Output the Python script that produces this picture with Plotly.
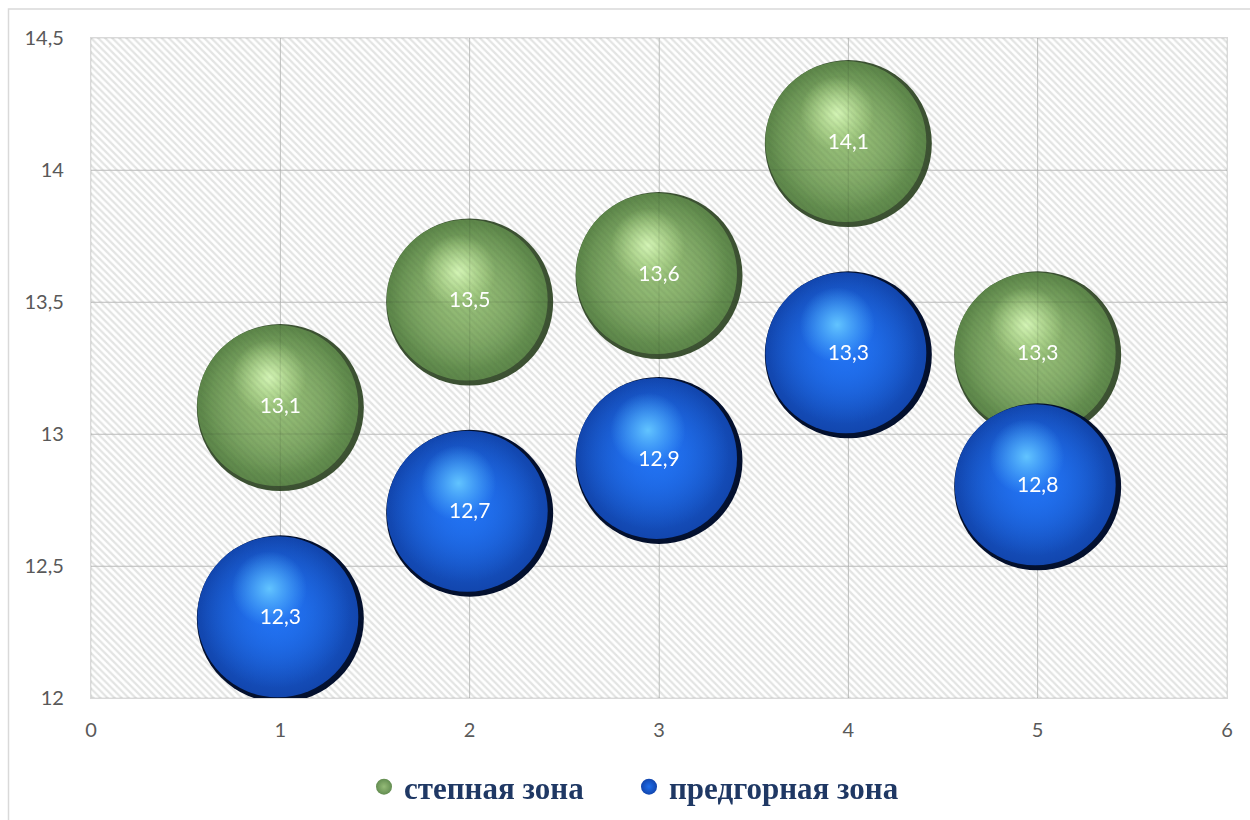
import plotly.graph_objects as go

# ---- data ----
x_vals = [1, 2, 3, 4, 5]
steppe = [13.1, 13.5, 13.6, 14.1, 13.3]
foothill = [12.3, 12.7, 12.9, 13.3, 12.8]
series_names = ["степная зона", "предгорная зона"]
x_range = [0, 6]
y_range = [12, 14.5]
x_ticks = [0, 1, 2, 3, 4, 5, 6]
y_ticks = [12, 12.5, 13, 13.5, 14, 14.5]

W, H = 1250, 820
L, R, T, B = 91, 23, 38, 122
PW, PH = W - L - R, H - T - B
px_x = PW / (x_range[1] - x_range[0])
px_y = PH / (y_range[1] - y_range[0])

BUBBLE = 167


def fmt(v):
    return f"{v:.1f}".replace(".", ",")


def off(xs, ys, dxp, dyp):
    return [x + dxp / px_x for x in xs], [y - dyp / px_y for y in ys]


fig = go.Figure()

rect_x = [x_range[0], x_range[1], x_range[1], x_range[0], x_range[0]]
rect_y = [y_range[0], y_range[0], y_range[1], y_range[1], y_range[0]]


def hatch(fg, solidity):
    fig.add_trace(go.Scatter(
        x=rect_x, y=rect_y, mode="lines", fill="toself", line=dict(width=0),
        fillcolor="rgba(0,0,0,0)",
        fillpattern=dict(shape="\\", fgcolor=fg, bgcolor="rgba(0,0,0,0)",
                         size=5, solidity=solidity),
        hoverinfo="skip", showlegend=False))


def grid_overlay(color):
    gx, gy = [], []
    for t in x_ticks:
        gx += [t, t, None]
        gy += [y_range[0], y_range[1], None]
    for t in y_ticks:
        gx += [x_range[0], x_range[1], None]
        gy += [t, t, None]
    fig.add_trace(go.Scatter(x=gx, y=gy, mode="lines",
                             line=dict(color=color, width=1.3),
                             hoverinfo="skip", showlegend=False))


# background hatch
hatch("#e3e3e3", 0.45)


def sphere(ys, name, legend_id, base_c, base_e, main_c, main_e, body, body_t, hi, hi_t, opacity):
    # base (radial gradient: gradient.color is the centre colour, marker.color the rim)
    fig.add_trace(go.Scatter(
        x=x_vals, y=ys, mode="markers", opacity=opacity,
        marker=dict(size=BUBBLE, color=base_e, line=dict(width=0),
                    gradient=dict(type="radial", color=base_c)),
        hoverinfo="skip", showlegend=False))
    # main body, shifted up-left so a darker rim remains at lower right
    mx, my = off(x_vals, ys, -2.5, -2)
    fig.add_trace(go.Scatter(
        x=mx, y=my, mode="markers", opacity=opacity, name=name, legend=legend_id,
        marker=dict(size=BUBBLE - 6, color=main_e, line=dict(width=0),
                    gradient=dict(type="radial", color=main_c)),
        hoverinfo="skip", showlegend=True))
    # body brightening
    bx, by = off(x_vals, ys, -5, -6)
    fig.add_trace(go.Scatter(
        x=bx, y=by, mode="markers", opacity=opacity,
        marker=dict(size=BUBBLE * 0.9, color=body_t, line=dict(width=0),
                    gradient=dict(type="radial", color=body)),
        hoverinfo="skip", showlegend=False))
    # highlight
    hx, hy = off(x_vals, ys, -11, -30)
    fig.add_trace(go.Scatter(
        x=hx, y=hy, mode="markers", opacity=opacity,
        marker=dict(size=BUBBLE * 0.45, color=hi_t, line=dict(width=0),
                    gradient=dict(type="radial", color=hi)),
        hoverinfo="skip", showlegend=False))


def labels(ys):
    fig.add_trace(go.Scatter(
        x=x_vals, y=ys, mode="text", text=[fmt(v) for v in ys],
        textposition="middle center",
        textfont=dict(family="Lato, Open Sans, sans-serif", size=21, color="white"),
        hoverinfo="skip", showlegend=False))


# green series (semi-transparent look: hatch and grid show through)
sphere(steppe, series_names[0], "legend",
       base_c="#4e6e40", base_e="#364c2c",
       main_c="#92ba74", main_e="#5f8a4c",
       body="#96be78", body_t="rgba(150,190,120,0)",
       hi="#d8f8ba", hi_t="rgba(200,240,160,0)", opacity=0.97)
hatch("rgba(40,50,40,0.13)", 0.45)
grid_overlay("rgba(40,50,40,0.10)")
labels(steppe)

# blue series
sphere(foothill, series_names[1], "legend2",
       base_c="#082c70", base_e="#030f2c",
       main_c="#1f6eec", main_e="#1246ae",
       body="#2272f2", body_t="rgba(34,114,242,0)",
       hi="#62c4ff", hi_t="rgba(80,180,255,0)", opacity=1.0)
labels(foothill)

axis_common = dict(showgrid=True, gridcolor="#d9d9d9", gridwidth=1.3,
                   showline=True, linecolor="#d9d9d9", linewidth=1.3, mirror=True,
                   zeroline=False, ticks="",
                   tickfont=dict(family="Lato, Open Sans, sans-serif", size=20, color="#595959"))

fig.update_xaxes(range=x_range, tickvals=x_ticks, ticklabelstandoff=14, **axis_common)
fig.update_yaxes(range=y_range, tickvals=y_ticks, ticklabelstandoff=22, **axis_common)

fig.add_shape(type="rect", xref="paper", yref="paper",
              x0=(8.5 - L) / PW, x1=(W + 20 - L) / PW,
              y0=(H - B - (H + 20)) / PH, y1=(H - B - 9) / PH,
              line=dict(color="#d9d9d9", width=1.5), fillcolor="rgba(0,0,0,0)",
              layer="below")

legend_font = dict(family="Liberation Serif, Times New Roman, serif", size=31,
                   color="#1f3864", weight="bold")
legend_y = (H - B - 787) / PH

fig.update_layout(
    width=W, height=H,
    margin=dict(l=L, r=R, t=T, b=B, autoexpand=False),
    paper_bgcolor="white", plot_bgcolor="white",
    separators=", ",
    showlegend=True,
    legend=dict(orientation="h", x=(389 - 25 - L) / PW, xanchor="left",
                y=legend_y, yanchor="middle", font=legend_font,
                itemsizing="trace", bgcolor="rgba(0,0,0,0)"),
    legend2=dict(orientation="h", x=(654 - 25 - L) / PW, xanchor="left",
                 y=legend_y, yanchor="middle", font=legend_font,
                 itemsizing="trace", bgcolor="rgba(0,0,0,0)"),
    hovermode=False,
)

fig.write_html("out.html")
